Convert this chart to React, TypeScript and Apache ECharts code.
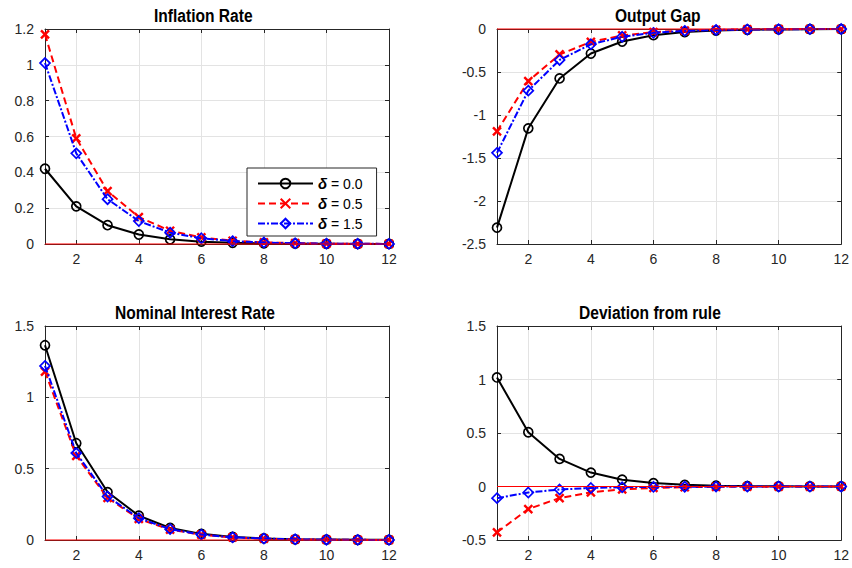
import React, { useEffect, useRef } from "react";
import * as echarts from "echarts";

const periods = [1, 2, 3, 4, 5, 6, 7, 8, 9, 10, 11, 12];
const seriesNames = ["δ = 0.0", "δ = 0.5", "δ = 1.5"];
const panelTitles = ["Inflation Rate", "Output Gap", "Nominal Interest Rate", "Deviation from rule"];

const inflation0 = [0.42, 0.21, 0.105, 0.053, 0.026, 0.013, 0.007, 0.003, 0.002, 0.001, 0.0004, 0.0002];
const inflation05 = [1.17, 0.59, 0.295, 0.15, 0.074, 0.037, 0.018, 0.009, 0.005, 0.002, 0.001, 0.0006];
const inflation15 = [1.01, 0.506, 0.25, 0.128, 0.063, 0.032, 0.016, 0.008, 0.004, 0.002, 0.001, 0.0005];

const gap0 = [-2.31, -1.155, -0.575, -0.285, -0.146, -0.072, -0.036, -0.018, -0.009, -0.005, -0.002, -0.001];
const gap05 = [-1.19, -0.605, -0.296, -0.15, -0.075, -0.037, -0.019, -0.009, -0.005, -0.002, -0.001, -0.0006];
const gap15 = [-1.44, -0.717, -0.36, -0.178, -0.09, -0.045, -0.022, -0.011, -0.006, -0.003, -0.001, -0.0007];

const rate0 = [1.365, 0.678, 0.336, 0.17, 0.085, 0.043, 0.021, 0.011, 0.005, 0.003, 0.001, 0.001];
const rate05 = [1.18, 0.59, 0.295, 0.148, 0.073, 0.037, 0.018, 0.009, 0.005, 0.002, 0.001, 0.0006];
const rate15 = [1.22, 0.609, 0.305, 0.153, 0.076, 0.038, 0.019, 0.01, 0.005, 0.002, 0.001, 0.0006];

const dev0 = [1.019, 0.507, 0.258, 0.13, 0.064, 0.032, 0.016, 0.008, 0.004, 0.002, 0.001, 0.0005];
const dev05 = [-0.428, -0.211, -0.108, -0.054, -0.027, -0.013, -0.007, -0.003, -0.002, -0.001, -0.0004, -0.0002];
const dev15 = [-0.109, -0.056, -0.028, -0.014, -0.007, -0.0035, -0.0018, -0.0009, -0.0004, -0.0002, -0.0001, 0];

const yMin = [0, -2.5, 0, -0.5];
const yMax = [1.2, 0, 1.5, 1.5];
const yStep = [0.2, 0.5, 0.5, 0.5];

const panels = [
  [inflation0, inflation05, inflation15],
  [gap0, gap05, gap15],
  [rate0, rate05, rate15],
  [dev0, dev05, dev15],
];

const grids = [
  { left: 45, top: 29, width: 344, height: 215 },
  { left: 497, top: 29, width: 345, height: 215 },
  { left: 45, top: 326, width: 344, height: 214 },
  { left: 497, top: 326, width: 345, height: 214 },
];
const titlePos = [
  { x: 154, y: 15.5 },
  { x: 615, y: 15.5 },
  { x: 115, y: 312.5 },
  { x: 579, y: 312.5 },
];

const AX = "#262626";
const GRIDC = "#e3e3e3";
const FONT = "'Liberation Sans', Arial, sans-serif";

const styles = [
  { color: "#000000", symbol: "circle", size: 9, dash: "solid" as any },
  { color: "#ff0000", symbol: "path://M0,0L10,10M10,0L0,10", size: 8, dash: [7, 4] },
  { color: "#0000ff", symbol: "diamond", size: 10, dash: [7, 2, 2, 2] },
];

export default function App() {
  const ref = useRef<HTMLDivElement>(null);
  useEffect(() => {
    if (!ref.current) return;
    const chart = echarts.init(ref.current, undefined, { renderer: "svg" });
    const xAxis: any[] = [];
    const yAxis: any[] = [];
    const series: any[] = [];
    grids.forEach((g, i) => {
      xAxis.push({
        type: "value", gridIndex: i, min: 1, max: 12, position: "bottom",
        axisLine: { show: true, onZero: false, lineStyle: { color: AX, width: 1 } },
        axisTick: { show: true, inside: true, length: 4, lineStyle: { color: AX } },
        axisLabel: { show: true, showMinLabel: false, color: AX, fontSize: 14, fontFamily: FONT, margin: 8 },
        splitLine: { show: true, lineStyle: { color: GRIDC, width: 1 } },
      });
      xAxis.push({
        type: "value", gridIndex: i, min: 1, max: 12, position: "top",
        axisLine: { show: true, onZero: false, lineStyle: { color: AX, width: 1 } },
        axisTick: { show: true, inside: true, length: 4, lineStyle: { color: AX } },
        axisLabel: { show: false },
        splitLine: { show: false },
      });
      yAxis.push({
        type: "value", gridIndex: i, min: yMin[i], max: yMax[i], interval: yStep[i], position: "left",
        axisLine: { show: true, onZero: false, lineStyle: { color: AX, width: 1 } },
        axisTick: { show: true, inside: true, length: 4, lineStyle: { color: AX } },
        axisLabel: { show: true, color: AX, fontSize: 14, fontFamily: FONT, margin: 11 },
        splitLine: { show: true, lineStyle: { color: GRIDC, width: 1 } },
      });
      yAxis.push({
        type: "value", gridIndex: i, min: yMin[i], max: yMax[i], interval: yStep[i], position: "right",
        axisLine: { show: true, onZero: false, lineStyle: { color: AX, width: 1 } },
        axisTick: { show: true, inside: true, length: 4, lineStyle: { color: AX } },
        axisLabel: { show: false },
        splitLine: { show: false },
      });
      panels[i].forEach((vals, k) => {
        const st = styles[k];
        series.push({
          type: "line", name: seriesNames[k], xAxisIndex: 2 * i, yAxisIndex: 2 * i,
          data: periods.map((p, j) => [p, vals[j]]),
          symbol: st.symbol, symbolSize: st.size, showAllSymbol: true, clip: false,
          lineStyle: { color: st.color, width: 2, type: st.dash },
          itemStyle: { color: "none", borderColor: st.color, borderWidth: k === 1 ? 2.4 : 1.7 },
          emphasis: { disabled: true }, z: 3 + k,
        });
      });
      series.push({
        type: "line", name: "zero", xAxisIndex: 2 * i, yAxisIndex: 2 * i,
        data: [[periods[0], 0], [periods[periods.length - 1], 0]],
        symbol: "none", lineStyle: { color: "#ff0000", width: 1 }, silent: true, z: 10, clip: false,
      });
    });
    chart.setOption({
      animation: false,
      backgroundColor: "#ffffff",
      grid: grids.map((g) => ({ ...g, containLabel: false })),
      graphic: panelTitles.map((t, i) => ({
        type: "text",
        x: titlePos[i].x,
        y: titlePos[i].y,
        scaleX: 0.82,
        scaleY: 1,
        silent: true,
        style: {
          text: t,
          fontFamily: FONT,
          fontWeight: "bold",
          fontSize: 19,
          fill: "#000",
          textAlign: "left",
          textVerticalAlign: "middle",
        },
      })),
      legend: {
        data: seriesNames,
        orient: "vertical",
        left: 247, top: 168,
        itemWidth: 55, itemHeight: 12, itemGap: 5,
        padding: [8, 14, 5, 10],
        backgroundColor: "#ffffff",
        borderColor: AX, borderWidth: 1,
        selectedMode: false,
        formatter: (name: string) => "{d|δ}" + name.slice(1),
        textStyle: {
          fontFamily: FONT, fontSize: 14, color: "#000",
          rich: { d: { fontFamily: FONT, fontSize: 15, fontWeight: "bold", fontStyle: "italic", color: "#000" } },
        },
      },
      xAxis, yAxis, series,
    });
    return () => chart.dispose();
  }, []);
  return <div ref={ref} style={{ position: "fixed", left: 0, top: 0, width: 852, height: 568 }} />;
}
